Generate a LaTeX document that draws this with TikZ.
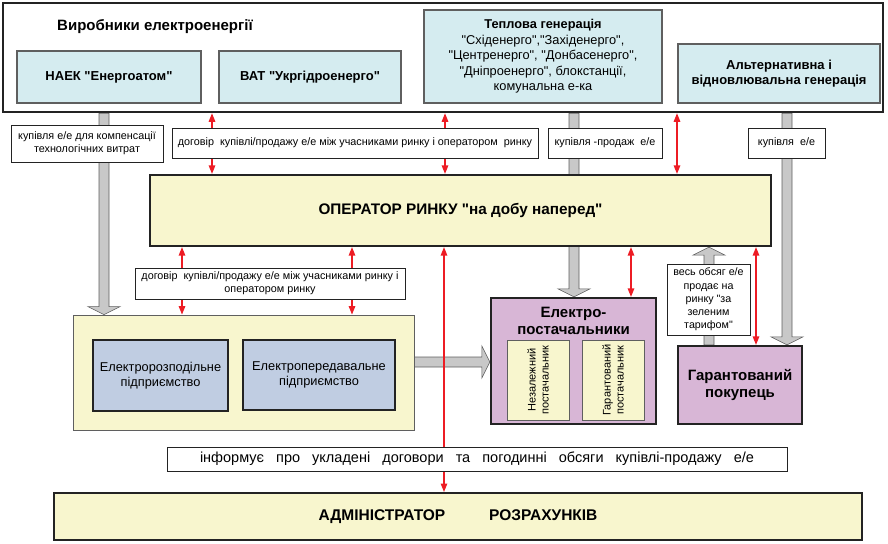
\documentclass[tikz,border=0pt]{standalone}
\usepackage{fontspec}
\setmainfont{Liberation Sans}[Ligatures=TeXOff]
\usepackage{tikz}
\usetikzlibrary{positioning,arrows.meta,calc,backgrounds}
\definecolor{mkBlue}{RGB}{213,236,240}
\definecolor{mkYellow}{RGB}{248,246,206}
\definecolor{mkSteel}{RGB}{192,205,226}
\definecolor{mkPurple}{RGB}{216,182,214}
\definecolor{mkGray}{RGB}{200,200,200}
\definecolor{mkGrayLine}{RGB}{95,95,95}
\definecolor{mkRed}{RGB}{237,28,36}
\definecolor{mkDark}{RGB}{35,35,35}

% block arrow: from #1 to tip #2
\newcommand{\blockarrow}[2]{%
  \coordinate (bh) at ($(#2)!8pt!(#1)$);
  \draw[blockarr] ($(#1)!5pt!90:(#2)$) -- ($(bh)!5pt!90:(#2)$) -- ($(bh)!16pt!90:(#2)$)
    -- (#2) -- ($(bh)!16pt!-90:(#2)$) -- ($(bh)!5pt!-90:(#2)$) -- ($(#1)!5pt!-90:(#2)$) -- cycle;}

\begin{document}
\begin{tikzpicture}[x=1pt,y=-1pt,
  lbl/.style={draw=mkDark, line width=0.7pt, fill=white, align=center, inner sep=1pt,
    font=\fontsize{10.8}{12.7}\selectfont},
  prod/.style={draw=mkGrayLine, line width=1.2pt, fill=mkBlue, align=center,
    font=\bfseries\fontsize{13}{15}\selectfont},
  mainbox/.style={draw=mkDark, line width=2.2pt, fill=mkYellow, align=center,
    font=\bfseries\fontsize{15.3}{17}\selectfont},
  firm/.style={draw=mkDark, line width=1.8pt, fill=mkSteel, align=center,
    font=\fontsize{12.8}{15}\selectfont},
  supbox/.style={draw=mkDark, line width=2.2pt, fill=mkPurple, align=center,
    font=\bfseries\fontsize{15}{17}\selectfont},
  inbox/.style={draw=mkGrayLine, line width=1pt, fill=mkYellow, align=center,
    font=\fontsize{11}{13}\selectfont},
  redarr/.style={draw=mkRed, line width=1.3pt, {Triangle[length=8.5pt,width=6.5pt]}-{Triangle[length=8.5pt,width=6.5pt]}},
  blockarr/.style={fill=mkGray, draw=mkGrayLine, line width=0.6pt}]
  \useasboundingbox (0,0) rectangle (888,543);

  % Producers
  \node[draw=mkDark, line width=2.5pt, fill=white, minimum width=880, minimum height=109] (producers) at (443,57.5) {};
  \node[font=\bfseries\fontsize{15}{17}\selectfont] (prodTitle) at (155,27) {Виробники електроенергії};
  \node[prod, minimum width=184, minimum height=52] (naek) at (109,77) {НАЕК "Енергоатом"};
  \node[prod, minimum width=182, minimum height=52] (vat) at (310,77) {ВАТ "Укргідроенерго"};
  \node[prod, minimum width=238, minimum height=93, font=\fontsize{12.8}{15.5}\selectfont] (teplova) at (543,56.5)
    {\textbf{Теплова генерація}\\"Східенерго","Західенерго",\\"Центренерго", "Донбасенерго",\\"Дніпроенерго", блокстанції,\\комунальна е-ка};
  \node[prod, minimum width=202, minimum height=59] (altgen) at (779,73.5)
    {Альтернативна і\\відновлювальна генерація};

  % Labels under producers
  \node[lbl, minimum width=152, minimum height=37] (lblComp) at (87,143.5) {купівля е/е для компенсації\\технологічних витрат};
  \node[lbl, minimum width=366, minimum height=30] (lblContract) at (355,143) {договір\ \ купівлі/продажу е/е між учасниками ринку і оператором\ \ ринку};
  \node[lbl, minimum width=114, minimum height=30] (lblSale) at (605,143) {купівля -продаж\ \ е/е};
  \node[lbl, minimum width=77, minimum height=30] (lblBuy) at (786.5,143) {купівля\ \ е/е};

  % Market operator
  \node[mainbox, minimum width=621, minimum height=71] (operator) at (460.5,210.5) {ОПЕРАТОР РИНКУ "на добу наперед"};
  \node[lbl, minimum width=270, minimum height=31] (lblContract2) at (270,283.5)
    {договір\ \ купівлі/продажу е/е між учасниками ринку і\\оператором ринку};

  % Network companies
  \node[draw=mkGrayLine, line width=0.8pt, fill=mkYellow, minimum width=341, minimum height=115] (distgroup) at (243.5,372.5) {};
  \node[firm, minimum width=135, minimum height=71] (distA) at (160.5,375.5) {Електророзподільне\\підприємство};
  \node[firm, minimum width=152, minimum height=70] (distB) at (319,375) {Електропередавальне\\підприємство};

  % Suppliers
  \node[supbox, minimum width=165, minimum height=126] (suppliers) at (573.5,361) {};
  \node[font=\bfseries\fontsize{15}{17}\selectfont, align=center] (supTitle) at (573.5,321) {Електро-\\постачальники};
  \node[inbox, rotate=90, minimum width=80, minimum height=62] (indep) at (538,380) {Незалежний\\постачальник};
  \node[inbox, rotate=90, minimum width=80, minimum height=62] (guar) at (613,380) {Гарантований\\постачальник};

  % Guaranteed buyer
  \node[lbl, minimum width=83, minimum height=71, font=\fontsize{10.7}{13.2}\selectfont] (lblGreen) at (708.5,299.5)
    {весь обсяг е/е\\продає на\\ринку "за\\зеленим\\тарифом"};
  \node[supbox, minimum width=124, minimum height=78] (buyer) at (740,385) {Гарантований\\покупець};

  % Settlement administrator
  \node[lbl, minimum width=620, minimum height=24, font=\fontsize{14.5}{16}\selectfont] (info) at (477,459)
    {\makebox[554pt]{інформує\hfill про\hfill укладені\hfill договори\hfill та\hfill погодинні\hfill обсяги\hfill купівлі-продажу\hfill е/е}};
  \node[draw=mkDark, line width=2pt, fill=mkYellow, minimum width=808, minimum height=47,
    font=\bfseries\fontsize{15.5}{17}\selectfont] (admin) at (458,516.5) {АДМІНІСТРАТОР\hspace{44pt}РОЗРАХУНКІВ};

  % Columns of the connectors
  \coordinate (cA) at (104,0);
  \coordinate (cB) at (574,0);
  \coordinate (cC) at (787,0);
  \coordinate (cD) at (709,0);
  \coordinate (rA) at (0,362);

  \begin{scope}[on background layer]
    % Energy flows
    \blockarrow{producers.south -| cA}{distgroup.north -| cA}
    \blockarrow{producers.south -| cB}{suppliers.north -| cB}
    \blockarrow{producers.south -| cC}{buyer.north -| cC}
    \blockarrow{buyer.north -| cD}{operator.south -| cD}
    \blockarrow{distgroup.east |- rA}{suppliers.west |- rA}

    % Contracts and information
    \foreach \cx in {212,445,677}
      \draw[redarr] (producers.south -| \cx,0) -- (operator.north -| \cx,0);
    \foreach \cx in {182,352}
      \draw[redarr] (operator.south -| \cx,0) -- (distgroup.north -| \cx,0);
    \draw[redarr] (operator.south -| 444,0) -- (admin.north -| 444,0);
    \draw[redarr] (operator.south -| 631,0) -- (suppliers.north -| 631,0);
    \draw[redarr] (operator.south -| 756,0) -- (buyer.north -| 756,0);
  \end{scope}
\end{tikzpicture}
\end{document}
